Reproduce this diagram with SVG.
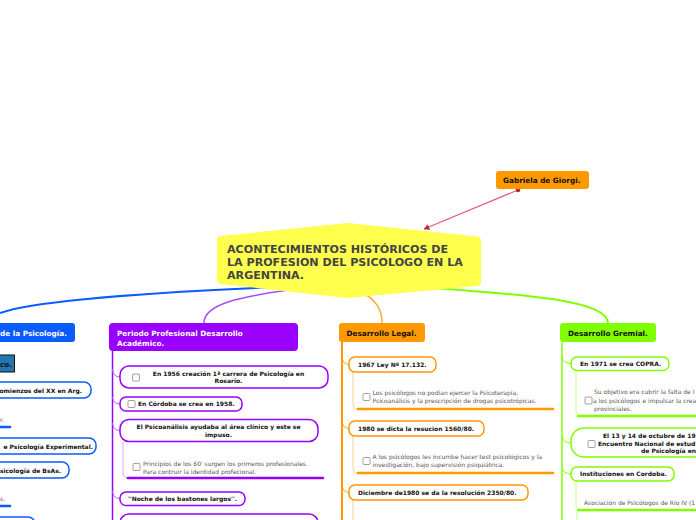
<svg xmlns="http://www.w3.org/2000/svg" width="696" height="520" viewBox="0 0 696 520">
<style>
text{font-family:"DejaVu Sans",Verdana,sans-serif}
.ct{font-size:11.1px;font-weight:bold;fill:#444}
.lbl{font-size:7.3px;font-weight:bold;fill:#111}
.lw{font-size:7.3px;font-weight:bold;fill:#fff}
.it{font-size:6px;font-weight:bold;fill:#111}
.sub{font-size:6px;fill:#555}
.cb{fill:#fff;stroke:#888;stroke-width:0.8}
.bb{fill:#fff;stroke:#0a5cff;stroke-width:1.5}
.pb{fill:#fff;stroke:#9900ff;stroke-width:1.5}
.ob{fill:#fff;stroke:#ff9900;stroke-width:1.5}
.gb{fill:#fff;stroke:#80ff00;stroke-width:1.5}
.bar{fill:none;stroke-width:2.6;stroke-linecap:round}
.tk{fill:none;stroke-width:1}
</style>
<defs>
<marker id="arr" viewBox="0 0 10 10" refX="9" refY="5" markerWidth="6" markerHeight="6" orient="auto" markerUnits="userSpaceOnUse">
<path d="M0,0 L10,5 L0,10 Z" fill="#cc2233"/>
</marker>
</defs>
<rect width="696" height="520" fill="#fff"/>
<g id="connectors">
<path d="M300,286 C200,290 40,298 0,313" fill="none" stroke="#0a5cff" stroke-width="2"/>
<path d="M288,290 C240,297 204,304 204,323" fill="none" stroke="#a64dff" stroke-width="1.5"/>
<path d="M362,292 C375,300 382,308 382,323" fill="none" stroke="#ffaa33" stroke-width="1.5"/>
<path d="M420,287 C520,294 608,300 608,323" fill="none" stroke="#80ff00" stroke-width="2"/>
<line x1="518" y1="190" x2="424" y2="229" stroke="#e0607a" stroke-width="1.3" marker-end="url(#arr)"/>
<circle cx="518" cy="190" r="2.3" fill="#cc2233"/>
<line x1="112.5" y1="350" x2="112.5" y2="520" stroke="#9900ff" stroke-width="1.5"/>
<line x1="342" y1="342" x2="342" y2="520" stroke="#ff9900" stroke-width="2"/>
<line x1="562" y1="342" x2="562" y2="520" stroke="#80ff00" stroke-width="1.5"/>
<g stroke="#b366ff" class="tk">
<path d="M112.5,369 Q113,377 120,377"/>
<path d="M112.5,397 Q113,404 120,404"/>
<path d="M112.5,423 Q113,430.5 120,430.5"/>
<path d="M112.5,491 Q113,498.5 120,498.5"/>
</g>
<g stroke="#ffaa33" class="tk">
<path d="M342,357 Q343,364.5 349,364.5"/>
<path d="M342,421 Q343,428.5 349,428.5"/>
<path d="M342,485 Q343,492.5 349,492.5"/>
</g>
<g stroke="#80ff00" class="tk">
<path d="M562,356 Q563,363.5 571,363.5"/>
<path d="M562,436 Q563,443 571,443"/>
<path d="M562,467 Q563,474 571,474"/>
</g>
<path d="M123,442 L123,473 Q123,478 128,478" stroke="#d9a8ff" class="tk"/>
<g stroke="#ffd08a" class="tk">
<path d="M353,372 L353,404 Q353,409 358,409"/>
<path d="M353,436 L353,468 Q353,473 358,473"/>
<path d="M353,500 L353,520"/>
</g>
<g stroke="#c6ff8a" class="tk">
<path d="M576,370 L576,411 Q576,416 581,416"/>
<path d="M576,481 L576,505 Q576,510 581,510"/>
<path d="M577,512 L577,520"/>
</g>
</g>
<g id="central">
<path d="M217,240 Q217,236 221,236 L348,223 L477,236.5 Q481,237 481,241 L481,282 Q481,286 477,286 L348,298 L221,284 Q217,283.5 217,280 Z" fill="#ffff4d"/>
<text class="ct" x="227" y="252.5">ACONTECIMIENTOS HISTÓRICOS DE</text>
<text class="ct" x="227" y="265.5">LA PROFESION DEL PSICOLOGO EN LA</text>
<text class="ct" x="227" y="279">ARGENTINA.</text>
</g>
<g id="gabriela">
<rect x="496" y="171" width="93" height="18" rx="3" fill="#ff9900"/>
<text class="lbl" x="503" y="183">Gabriela de Giorgi.</text>
</g>
<g id="branch-blue">
<rect x="-10" y="323" width="85" height="19" rx="3" fill="#0a5cff"/>
<text class="lw" x="67" y="336" text-anchor="end">de la Psicología.</text>
</g>
<g id="blue-items">
<rect x="-5" y="355" width="19.5" height="17" fill="#2277b0" stroke="#111" stroke-width="1"/>
<text x="12" y="366.5" text-anchor="end" style="font-size:7.2px;font-weight:bold;fill:#111">co.</text>
<rect class="bb" x="-10" y="382" width="101" height="16" rx="7"/>
<text class="it" x="82" y="392.5" text-anchor="end">omienzos del XX en Arg.</text>
<text class="sub" x="0" y="421.5">r.</text>
<path class="bar" stroke="#0a5cff" d="M-2,427 L10,427"/>
<rect class="bb" x="-10" y="438" width="106" height="16" rx="7"/>
<text class="it" x="93" y="448.5" text-anchor="end">e Psicología Experimental.</text>
<rect class="bb" x="-10" y="462" width="79" height="16" rx="7"/>
<text class="it" x="61" y="472.5" text-anchor="end">sicología de BsAs.</text>
<text class="sub" x="0" y="501">s.</text>
<path class="bar" stroke="#0a5cff" d="M-2,506 L10,506"/>
<rect class="bb" x="-10" y="517" width="45" height="16" rx="7"/>
</g>
<g id="branch-purple">
<rect x="109" y="323" width="189" height="28" rx="4" fill="#9900ff"/>
<text class="lw" x="117" y="336">Periodo Profesional Desarrollo</text>
<text class="lw" x="117" y="345.5">Académico.</text>
</g>
<g id="purple-items">
<rect class="pb" x="120" y="366" width="208" height="22" rx="9"/>
<rect class="cb" x="132.5" y="374" width="7" height="7" rx="1"/>
<text class="it" x="228.5" y="375.5" text-anchor="middle">En 1956 creación 1ª carrera de Psicología en</text>
<text class="it" x="228.5" y="383" text-anchor="middle">Rosario.</text>
<rect class="pb" x="120" y="397" width="122" height="14" rx="6"/>
<rect class="cb" x="128" y="400.5" width="7" height="7" rx="1"/>
<text class="it" x="138" y="406">En Córdoba se crea en 1958.</text>
<rect class="pb" x="120" y="419.5" width="198" height="22" rx="9"/>
<text class="it" x="218.5" y="429" text-anchor="middle">El Psicoanálisis ayudaba al área clínico y este se</text>
<text class="it" x="218.5" y="436.5" text-anchor="middle">impuso.</text>
<rect class="cb" x="133" y="463.5" width="7" height="7" rx="1"/>
<text class="sub" x="143" y="465.5">Principios de los 60' surgen los primeros profesionales.</text>
<text class="sub" x="143" y="473.5">Para contruir la identidad profecional.</text>
<path class="bar" stroke="#9900ff" d="M128,478 L323,478"/>
<rect class="pb" x="120" y="492" width="125" height="13.5" rx="6"/>
<text class="it" x="128" y="500.8">''Noche de los bastones largos''.</text>
<rect class="pb" x="120" y="514" width="198" height="22" rx="9"/>
</g>
<g id="branch-orange">
<rect x="339" y="323" width="86" height="19" rx="3" fill="#ff9900"/>
<text class="lbl" x="346.5" y="336">Desarrollo Legal.</text>
</g>
<g id="orange-items">
<rect class="ob" x="349" y="357" width="87" height="15" rx="6"/>
<text class="it" x="358" y="366.7">1967 Ley Nº 17.132.</text>
<rect class="cb" x="363" y="393.5" width="7" height="7" rx="1"/>
<text class="sub" x="372.5" y="395">Los psicólogos no podían ejercer la Psicoterapia,</text>
<text class="sub" x="372.5" y="403">Psicoanálisis y la prescripción de drogas psicotrópicas.</text>
<path class="bar" stroke="#ff9900" d="M358,409 L553,409"/>
<rect class="ob" x="349" y="421" width="135" height="15" rx="6"/>
<text class="it" x="358" y="430.7">1980 se dicta la resucion 1560/80.</text>
<rect class="cb" x="363" y="457.5" width="7" height="7" rx="1"/>
<text class="sub" x="372.5" y="459">A los psicólogos les incumbe hacer test psicológicos y la</text>
<text class="sub" x="372.5" y="467">investigación, bajo supervisión psiquiátrica.</text>
<path class="bar" stroke="#ff9900" d="M358,473 L553,473"/>
<rect class="ob" x="349" y="485" width="179" height="15" rx="6"/>
<text class="it" x="358" y="494.7">Diciembre de1980 se da la resolución 2350/80.</text>
</g>
<g id="branch-green">
<rect x="560" y="323" width="96" height="19" rx="3" fill="#80ff00"/>
<text class="lbl" x="568" y="336">Desarrollo Gremial.</text>
</g>
<g id="green-items">
<rect class="gb" x="571" y="357" width="98" height="13.5" rx="6"/>
<text class="it" x="580" y="366">En 1971 se crea COPRA.</text>
<rect class="cb" x="585" y="397" width="7" height="7" rx="1"/>
<text class="sub" x="594" y="394">Su objetivo era cubrir la falta de l</text>
<text class="sub" x="593" y="402.5">a los psicólogos e impulsar la crea</text>
<text class="sub" x="594" y="411">provinciales.</text>
<path class="bar" stroke="#80ff00" d="M578,416 L700,416"/>
<rect class="gb" x="571" y="428" width="140" height="29" rx="13"/>
<rect class="cb" x="588" y="440.5" width="7" height="7" rx="1"/>
<text class="it" x="603" y="438">El 13 y 14 de octubre de 19</text>
<text class="it" x="598" y="445.5">Encuentro Nacional de estudi</text>
<text class="it" x="641" y="453">de Psicología en</text>
<rect class="gb" x="571" y="467" width="103" height="14" rx="6"/>
<text class="it" x="580" y="476.2">Instituciones en Cordoba.</text>
<text class="sub" x="584" y="504.5">Asociación de Psicólogos de Río IV (1</text>
<path class="bar" stroke="#80ff00" d="M578,510 L700,510"/>
</g>
</svg>
